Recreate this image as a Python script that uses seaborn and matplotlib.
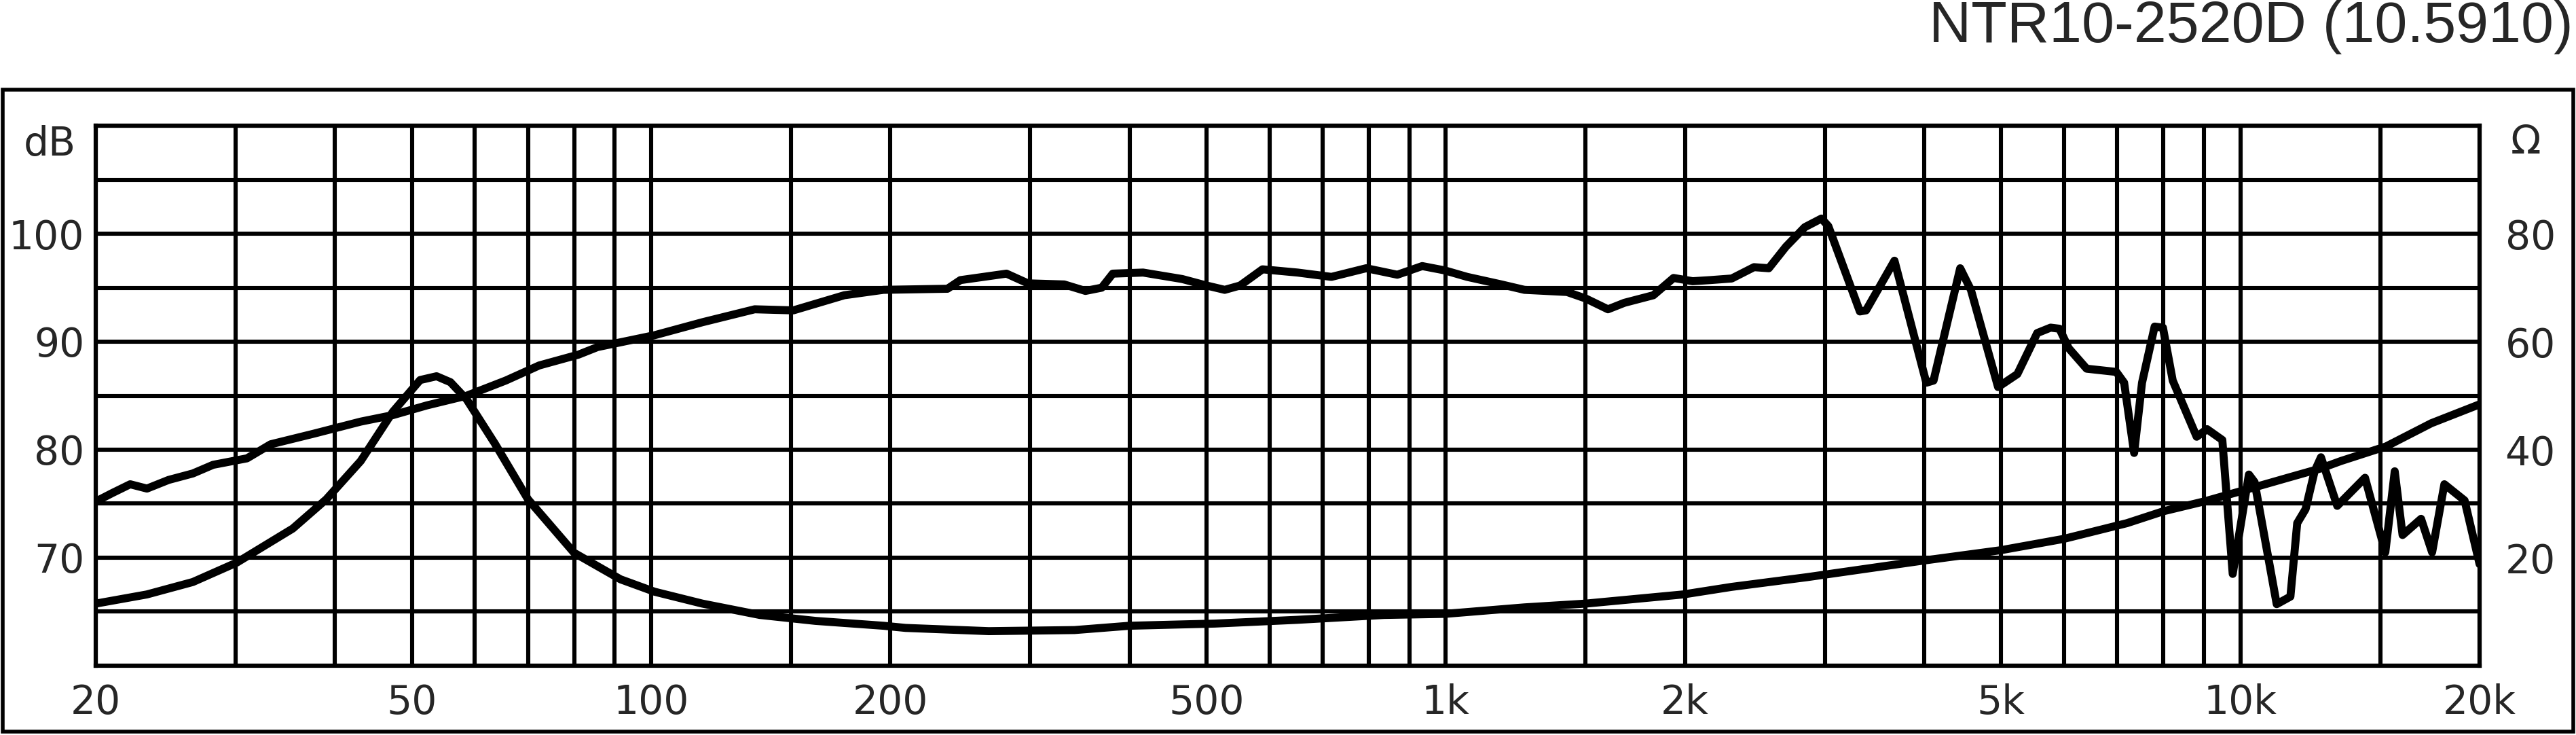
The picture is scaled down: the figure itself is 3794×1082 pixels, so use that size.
import numpy as np
import pandas as pd
import matplotlib
matplotlib.use("Agg")
import matplotlib.pyplot as plt
from matplotlib.patches import Rectangle
from matplotlib.ticker import NullLocator
import seaborn as sns

# ---------------- data ----------------
spl_freq = [20, 21, 22.1, 23.2, 24.7, 26.5, 28.1, 31.0, 33.2, 37.7, 43.1, 47.3, 52.2,
            58.6, 65.6, 72.3, 81.0, 85.6, 101, 116, 135, 151, 175, 196, 236, 245,
            280, 298, 331, 352, 369, 381, 416, 466, 500, 527, 551, 588, 651, 718,
            794, 869, 934, 997, 1064, 1175, 1256, 1421, 1500, 1600, 1678, 1825,
            1935, 2045, 2150, 2290, 2443, 2550, 2680, 2830, 2970, 3030, 3320, 3380,
            3670, 4025, 4110, 4440, 4580, 4955, 5240, 5550, 5770, 5920, 6080, 6405,
            6980, 7140, 7350, 7520, 7800, 7990, 8220, 8810, 9080, 9490, 9780,
            10250, 10420, 11110, 11560, 11790, 12080, 12400, 12630, 13240, 14350,
            15220, 15640, 16000, 16880, 17430, 18060, 19150, 20000]
spl_db = [75.2, 76.0, 76.8, 76.4, 77.2, 77.8, 78.6, 79.2, 80.5, 81.5, 82.6, 83.2, 84.1,
          85.0, 86.4, 87.8, 88.8, 89.5, 90.6, 91.8, 93.0, 92.9, 94.3, 94.8, 94.9, 95.7,
          96.3, 95.4, 95.3, 94.7, 95.0, 96.3, 96.4, 95.8, 95.2, 94.8, 95.2, 96.7, 96.4,
          96.0, 96.8, 96.2, 97.0, 96.6, 96.0, 95.3, 94.8, 94.6, 94.0, 93.0, 93.6, 94.3,
          95.9, 95.6, 95.7, 95.85, 96.9, 96.8, 98.8, 100.6, 101.4, 100.7, 92.8, 92.9,
          97.5, 86.2, 86.4, 96.8, 94.8, 85.8, 87.0, 90.8, 91.3, 91.2, 89.4, 87.5,
          87.2, 86.2, 79.7, 86.2, 91.4, 91.3, 86.4, 81.2, 81.9, 80.9, 68.5,
          77.7, 77.0, 65.7, 66.4, 73.2, 74.5, 78.0, 79.3, 74.8, 77.4,
          70.5, 78.0, 72.1, 73.6, 70.5, 76.8, 75.3, 69.4]

imp_freq = [20, 23.2, 26.5, 30.1, 35.4, 39.0, 43.1, 47.3, 51.2, 53.7, 55.9, 58.6, 63.6,
            70.0, 80.0, 91.5, 101, 116, 137, 161, 196, 209, 266, 341, 400, 512, 651,
            836, 998, 1256, 1500, 1990, 2290, 2850, 3960, 5000, 6000, 7200, 8000,
            9050, 10000, 11470, 12600, 13380, 15250, 17390, 20000]
imp_ohm = [11.5, 13.2, 15.5, 19.1, 25.4, 30.8, 37.9, 47.0, 52.9, 53.6, 52.5, 49.3, 41.1,
           30.8, 20.9, 16.0, 13.7, 11.5, 9.4, 8.3, 7.4, 7.0, 6.4, 6.6, 7.4, 7.8, 8.5,
           9.4, 9.6, 10.8, 11.5, 13.2, 14.6, 16.4, 19.4, 21.4, 23.5, 26.4, 28.6,
           30.5, 32.3, 34.8, 36.5, 37.9, 40.6, 44.9, 48.4]

grid_freqs = [20, 30, 40, 50, 60, 70, 80, 90, 100, 150, 200, 300, 400, 500, 600, 700,
              800, 900, 1000, 1500, 2000, 3000, 4000, 5000, 6000, 7000, 8000, 9000,
              10000, 15000, 20000]
x_labels = {20: "20", 50: "50", 100: "100", 200: "200", 500: "500", 1000: "1k",
            2000: "2k", 5000: "5k", 10000: "10k", 20000: "20k"}
db_grid = [60, 65, 70, 75, 80, 85, 90, 95, 100, 105, 110]
db_labels = {70: "70", 80: "80", 90: "90", 100: "100"}
ohm_ticks = [20, 40, 60, 80]
title = "NTR10-2520D (10.5910)"

# ---------------- figure ----------------
sns.set_style("white")
plt.rcParams['font.family'] = ['DejaVu Sans']

W, H = 3794, 1082
fig = plt.figure(figsize=(W / 100, H / 100), dpi=100)
L, R, T, B = 141, 3652, 185, 980
ax = fig.add_axes([L / W, 1 - B / H, (R - L) / W, (B - T) / H])
ax.set_xscale('log')
ax.set_xlim(20, 20000)
ax.set_ylim(60, 110)

GRID_LW = 4.4
CURVE_LW = 8.5
FS = 42

spl_df = pd.DataFrame({"freq": spl_freq, "dB": spl_db})
imp_df = pd.DataFrame({"freq": imp_freq, "ohm": imp_ohm})

sns.lineplot(data=spl_df, x="freq", y="dB", ax=ax, color="black", lw=CURVE_LW,
             solid_joinstyle="round", solid_capstyle="round", zorder=5)

ax.set_xticks(grid_freqs)
ax.set_xticklabels([x_labels.get(f, "") for f in grid_freqs])
ax.xaxis.set_minor_locator(NullLocator())
ax.set_yticks(db_grid)
ax.set_yticklabels([db_labels.get(v, "") for v in db_grid])
ax.yaxis.set_minor_locator(NullLocator())
ax.grid(True, which="major", color="black", lw=GRID_LW)
ax.set_axisbelow(True)
ax.tick_params(axis="x", length=0, pad=19, labelsize=FS)
ax.tick_params(axis="y", length=0, pad=12, labelsize=FS)
ax.set_xlabel("")
ax.set_ylabel("")
for sp in ax.spines.values():
    sp.set_color("black")
    sp.set_linewidth(GRID_LW)

ax2 = ax.twinx()
ax2.set_ylim(0, 100)
sns.lineplot(data=imp_df, x="freq", y="ohm", ax=ax2, color="black", lw=CURVE_LW,
             solid_joinstyle="round", solid_capstyle="round", zorder=5)
ax2.set_yticks(ohm_ticks)
ax2.set_yticklabels([str(v) for v in ohm_ticks])
ax2.yaxis.set_minor_locator(NullLocator())
ax2.grid(False)
ax2.tick_params(axis="y", length=0, pad=27, labelsize=FS)
ax2.set_ylabel("")
ax2.set_xlabel("")
for sp in ax2.spines.values():
    sp.set_color("black")
    sp.set_linewidth(GRID_LW)

# unit labels
fig.text(112 / W, 1 - 212 / H, "dB", ha="right", va="center", fontsize=FS)
fig.text(3720 / W, 1 - 210 / H, "Ω", ha="center", va="center", fontsize=FS)

# title
fig.text(3790 / W, 1 - 62 / H, title, ha="right", va="baseline", fontsize=62,
         family=["Liberation Sans", "DejaVu Sans"])

# outer frame
fig.add_artist(Rectangle((4 / W, 1 - 1077 / H), (3790 - 4) / W, (1077 - 132) / H,
                         transform=fig.transFigure, fill=False, lw=4, ec="black"))

fig.savefig("out.png", dpi=100, facecolor="white")
